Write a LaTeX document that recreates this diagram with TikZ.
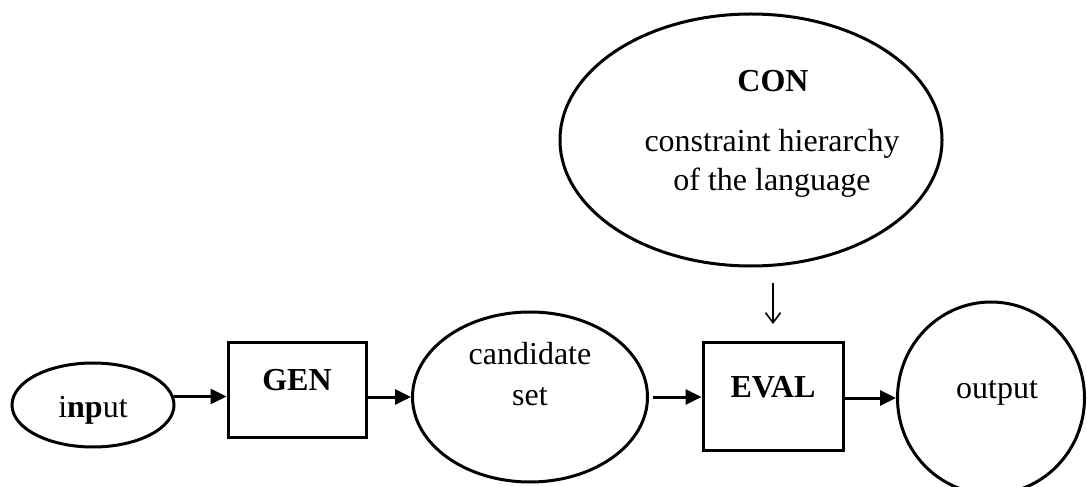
\documentclass[tikz,border=0pt]{standalone}
\usepackage{fontspec}
\setmainfont{Liberation Serif}
\usetikzlibrary{shapes.geometric,arrows.meta}
\begin{document}
\begin{tikzpicture}[x=1bp,y=-1bp,
  every node/.style={font=\fontsize{32bp}{38bp}\selectfont},
  shp/.style={draw,line width=3bp,inner sep=0pt},
  ell/.style={shp,ellipse},
  box/.style={shp,rectangle},
  lbl/.style={inner sep=0pt,anchor=base},
  arr/.style={line width=3bp,-{Triangle[length=16bp,width=15bp]}},
  thinarr/.style={line width=1.6bp,-{Straight Barb[length=10bp,width=15bp,line width=1.6bp]}}
]
\useasboundingbox (0,0) rectangle (1087,487);
% shapes
\node[ell,minimum width=162bp,minimum height=84bp] (input) at (93,405) {};
\node[box,minimum width=138bp,minimum height=94bp] (gen) at (297,390) {};
\node[ell,minimum width=235bp,minimum height=170bp] (cand) at (530,397) {};
\node[box,minimum width=140bp,minimum height=107bp] (eval) at (773,396.5) {};
\node[ell,minimum width=187bp,minimum height=192bp] (out) at (991,398) {};
\node[ell,minimum width=382bp,minimum height=252bp] (con) at (751,140) {};
% labels
\node[lbl] (tin) at (93,417) {i\textbf{np}ut};
\node[lbl] (tgen) at (297,390) {\textbf{GEN}};
\node[lbl] (tc1) at (530,365) {candidate};
\node[lbl] (tc2) at (530,405) {set};
\node[lbl] (teval) at (773,397) {\textbf{EVAL}};
\node[lbl] (tout) at (997,398) {output};
\node[lbl] (tcon) at (773,92) {\textbf{CON}};
\node[lbl] (tcon2) at (772,152) {constraint hierarchy};
\node[lbl] (tcon3) at (772,191) {of the language};
% connectors
\draw[arr] (input.6) -- (input.6 -| gen.west);
\draw[arr] (cand.west -| gen.east) -- (cand.west);
\draw[arr,shorten <=4bp] (cand.east) -- (cand.east -| eval.west);
\draw[arr] (eval.east |- out.west) -- (out.west);
\coordinate (d1) at (773,283);
\coordinate (d2) at (773,324);
\draw[thinarr] (d1) -- (d2);
\end{tikzpicture}
\end{document}
